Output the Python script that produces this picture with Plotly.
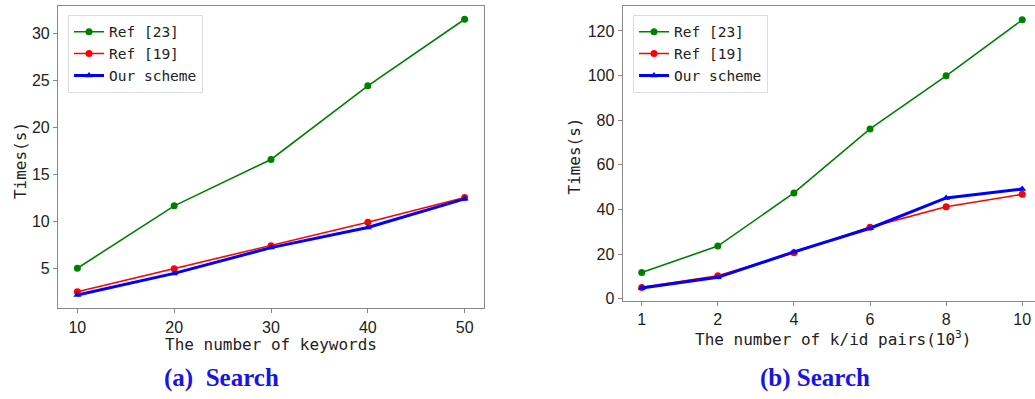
import plotly.graph_objects as go

W, H = 1035, 399

# Panel (a)
kw_x = [10, 20, 30, 40, 50]
a_ref23 = [5.0, 11.65, 16.6, 24.45, 31.55]
a_ref19 = [2.5, 4.95, 7.4, 9.9, 12.55]
a_ours = [2.15, 4.45, 7.2, 9.35, 12.4]

# Panel (b)
kid_x = ["1", "2", "4", "6", "8", "10"]
b_ref23 = [11.8, 23.6, 47.4, 76.1, 99.9, 125.0]
b_ref19 = [5.1, 10.3, 20.6, 32.1, 41.2, 46.8]
b_ours = [4.8, 9.6, 21.0, 31.6, 45.2, 49.2]

series_names = ["Ref [23]", "Ref [19]", "Our scheme"]
colors = ["#008000", "#ff0000", "#0000ff"]
symbols = ["circle", "circle", "triangle-up"]
widths = [1.6, 1.6, 3]

MONO = "DejaVu Sans Mono"
SANS = "Liberation Sans"

fig = go.Figure()

for i, (ys, name) in enumerate(zip([a_ref23, a_ref19, a_ours], series_names)):
    fig.add_trace(go.Scatter(x=kw_x, y=ys, name=name, mode="lines+markers",
                             line=dict(color=colors[i], width=widths[i]),
                             marker=dict(symbol=symbols[i], size=7, color=colors[i]),
                             xaxis="x", yaxis="y", legend="legend"))
for i, (ys, name) in enumerate(zip([b_ref23, b_ref19, b_ours], series_names)):
    fig.add_trace(go.Scatter(x=kid_x, y=ys, name=name, mode="lines+markers",
                             line=dict(color=colors[i], width=widths[i]),
                             marker=dict(symbol=symbols[i], size=7, color=colors[i]),
                             xaxis="x2", yaxis="y2", legend="legend2"))

def px_x(p):
    return p / W

def px_y(p):
    return 1 - p / H

axis_common = dict(showgrid=False, zeroline=False, showline=True, linecolor="#888888",
                   linewidth=1.2, ticks="outside", ticklen=4, tickcolor="#888888",
                   tickfont=dict(family=SANS, size=16, color="#222222"))

legend_common = dict(xanchor="left", yanchor="top", bgcolor="white",
                     bordercolor="#dddddd", borderwidth=1,
                     font=dict(family=MONO, size=14.5, color="#222222"), itemwidth=30)

fig.update_layout(
    width=W, height=H, margin=dict(l=0, r=0, t=0, b=0),
    paper_bgcolor="white", plot_bgcolor="white",
    xaxis=dict(domain=[px_x(58), px_x(484)], range=[8, 52], tickvals=kw_x,
               mirror=True, anchor="y", **axis_common),
    yaxis=dict(domain=[px_y(313), px_y(6)], range=[0.73, 32.97],
               tickvals=[5, 10, 15, 20, 25, 30], mirror=True, anchor="x", **axis_common),
    xaxis2=dict(domain=[px_x(622.7), 1.0], type="category", range=[-0.25, 5.168],
                mirror=True, anchor="y2", **axis_common),
    yaxis2=dict(domain=[px_y(305.6), px_y(6.5)], range=[-1, 131],
                tickvals=[0, 20, 40, 60, 80, 100, 120], mirror=False, anchor="x2",
                **axis_common),
    legend=dict(x=px_x(68), y=px_y(15), **legend_common),
    legend2=dict(x=px_x(633), y=px_y(15), **legend_common),
    showlegend=True,
)

label_font = dict(family=MONO, size=16, color="#222222")
cap_font = dict(family="Liberation Serif", size=25, color="#1515e6")
annotations = [
    dict(text="The number of keywords", x=px_x(271), y=px_y(350), font=label_font),
    dict(text="The number of k/id pairs(10<sup>3</sup>)", x=px_x(833), y=px_y(344), font=label_font),
    dict(text="Times(s)", x=px_x(20), y=px_y(163.5), textangle=-90, font=label_font),
    dict(text="Times(s)", x=px_x(575), y=px_y(159), textangle=-90, font=label_font),
    dict(text="<b>(a)  Search</b>", x=px_x(221), y=px_y(384), font=cap_font),
    dict(text="<b>(b) Search</b>", x=px_x(815), y=px_y(384), font=cap_font),
]
for a in annotations:
    a.update(xref="paper", yref="paper", showarrow=False, xanchor="center", yanchor="middle")
fig.update_layout(annotations=annotations)

fig.write_html("out.html")
